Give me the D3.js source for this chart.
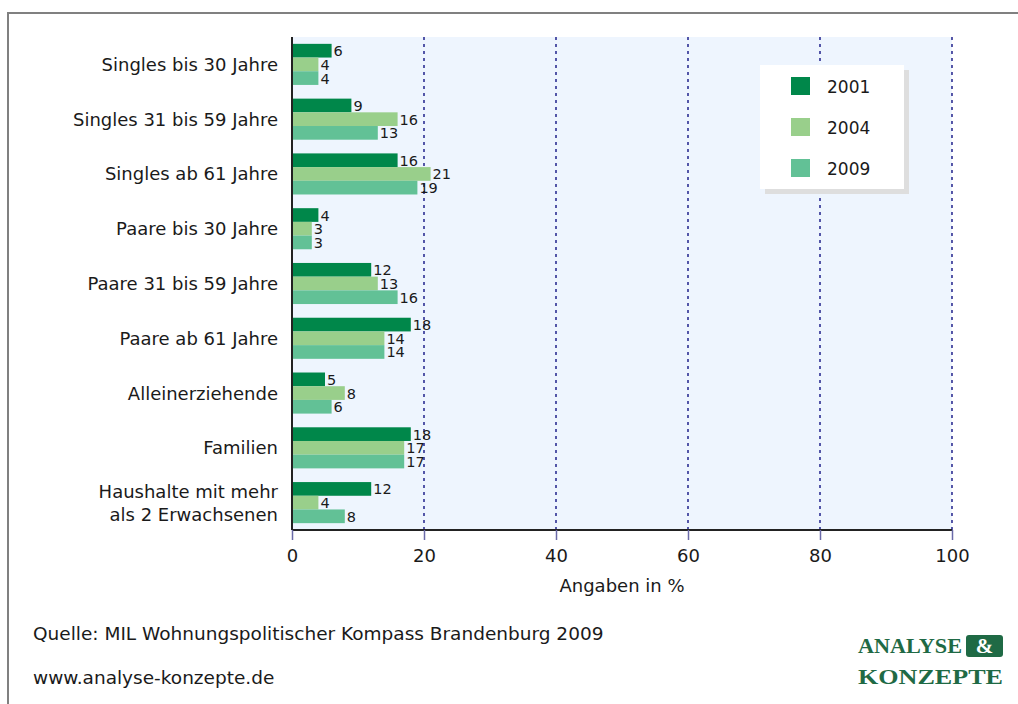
<!DOCTYPE html>
<html>
<head>
<meta charset="utf-8">
<script src="https://cdn.jsdelivr.net/npm/d3@7"></script>
<style>
  body { margin: 0; background: #fff; }
  svg text { font-family: "DejaVu Sans", Verdana, sans-serif; fill: #1a1a1a; }
  svg text.logo { font-family: "Liberation Serif", "DejaVu Serif", serif; font-weight: bold; }
</style>
</head>
<body>
<svg id="chart" width="1018" height="704"></svg>
<script>
// data
const categories = [
  ["Singles bis 30 Jahre"],
  ["Singles 31 bis 59 Jahre"],
  ["Singles ab 61 Jahre"],
  ["Paare bis 30 Jahre"],
  ["Paare 31 bis 59 Jahre"],
  ["Paare ab 61 Jahre"],
  ["Alleinerziehende"],
  ["Familien"],
  ["Haushalte mit mehr", "als 2 Erwachsenen"]
];
const years = ["2001", "2004", "2009"];
const values2001 = [6, 9, 16, 4, 12, 18, 5, 18, 12];
const values2004 = [4, 16, 21, 3, 13, 14, 8, 17, 4];
const values2009 = [4, 13, 19, 3, 16, 14, 6, 17, 8];
const colors = ["#00874a", "#99cf8b", "#62c196"];
const xTicks = [0, 20, 40, 60, 80, 100];

const seriesValues = [values2001, values2004, values2009];

const svg = d3.select("#chart");
const plotLeft = 292, plotRight = 952, plotTop = 37, plotBottom = 530;

// outer frame (top + left edge only visible)
svg.append("line").attr("x1", 7).attr("x2", 1018).attr("y1", 13).attr("y2", 13)
    .attr("stroke", "#808080").attr("stroke-width", 2);
svg.append("line").attr("x1", 8).attr("x2", 8).attr("y1", 12).attr("y2", 704)
    .attr("stroke", "#808080").attr("stroke-width", 2);

const x = d3.scaleLinear().domain([0, 100]).range([plotLeft, plotRight]);
const y = d3.scaleBand().domain(d3.range(categories.length)).range([plotTop, plotBottom])
    .paddingInner(0.25).paddingOuter(0.125);
const ySub = d3.scaleBand().domain(years).range([0, y.bandwidth()]);

// plot background
svg.append("rect").attr("x", plotLeft).attr("y", plotTop)
    .attr("width", plotRight - plotLeft).attr("height", plotBottom - plotTop)
    .attr("fill", "#eef5fe");

// grid lines
svg.append("g").selectAll("line").data(xTicks.slice(1)).join("line")
    .attr("x1", d => x(d)).attr("x2", d => x(d))
    .attr("y1", plotTop).attr("y2", plotBottom)
    .attr("stroke", "#00007a").attr("stroke-width", 1.3)
    .attr("stroke-dasharray", "3,4");

// bars
const groups = svg.append("g").selectAll("g").data(categories).join("g")
    .attr("transform", (d, i) => `translate(0,${y(i)})`);

groups.each(function(cat, i) {
  const g = d3.select(this);
  years.forEach((yr, s) => {
    const v = seriesValues[s][i];
    g.append("rect")
      .attr("x", x(0)).attr("y", ySub(yr))
      .attr("width", x(v) - x(0)).attr("height", ySub.bandwidth())
      .attr("fill", colors[s]);
    g.append("text")
      .attr("x", x(v) + 2).attr("y", ySub(yr) + ySub.bandwidth() / 2 + 5.5)
      .attr("font-size", 14.5)
      .text(v);
  });
  // category label
  const lines = cat;
  const cy = y.bandwidth() / 2;
  const lh = 23;
  const t = g.append("text").attr("text-anchor", "end").attr("font-size", 18);
  lines.forEach((ln, k) => {
    t.append("tspan").attr("x", 278)
      .attr("y", cy + 6.5 + (k - (lines.length - 1) / 2) * lh)
      .text(ln);
  });
});

// axes lines
svg.append("line").attr("x1", plotLeft).attr("x2", plotRight).attr("y1", plotBottom).attr("y2", plotBottom)
    .attr("stroke", "#222").attr("stroke-width", 2);
svg.append("line").attr("x1", plotLeft).attr("x2", plotLeft).attr("y1", plotTop).attr("y2", plotBottom)
    .attr("stroke", "#222").attr("stroke-width", 2);

// x axis ticks
const xAxis = svg.append("g").attr("transform", `translate(0,${plotBottom})`)
    .call(d3.axisBottom(x).tickValues(xTicks).tickSize(10).tickPadding(9).tickFormat(d3.format("d")));
xAxis.select(".domain").remove();
xAxis.selectAll("line").attr("stroke", "#6a6aa8").attr("stroke-width", 1.5);
xAxis.selectAll("text").attr("font-size", 18)
    .attr("font-family", "DejaVu Sans, sans-serif").attr("fill", "#1a1a1a");

svg.append("text").attr("x", (plotLeft + plotRight) / 2).attr("y", 592)
    .attr("text-anchor", "middle").attr("font-size", 18).text("Angaben in %");

// legend
const lg = svg.append("g").attr("transform", "translate(760,65)");
lg.append("rect").attr("x", 5).attr("y", 5).attr("width", 144).attr("height", 124).attr("fill", "#dedede");
lg.append("rect").attr("width", 144).attr("height", 124).attr("fill", "#fff");
years.forEach((yr, s) => {
  lg.append("rect").attr("x", 31).attr("y", 12 + s * 41).attr("width", 19).attr("height", 18)
    .attr("fill", colors[s]);
  lg.append("text").attr("x", 67).attr("y", 28 + s * 41).attr("font-size", 17).text(yr);
});

// footer
svg.append("text").attr("x", 33).attr("y", 640).attr("font-size", 18.5)
    .text("Quelle: MIL Wohnungspolitischer Kompass Brandenburg 2009");
svg.append("text").attr("x", 33).attr("y", 684).attr("font-size", 18.5)
    .text("www.analyse-konzepte.de");

// logo
const logo = svg.append("g");
logo.append("text").attr("class", "logo").attr("x", 858).attr("y", 653).attr("font-size", 22)
    .style("fill", "#1f6a45").attr("textLength", 104).attr("lengthAdjust", "spacingAndGlyphs")
    .text("ANALYSE");
logo.append("rect").attr("x", 966).attr("y", 635).attr("width", 37).attr("height", 22).attr("rx", 3)
    .attr("fill", "#1f6a45");
logo.append("text").attr("class", "logo").attr("x", 984.5).attr("y", 653).attr("font-size", 21)
    .attr("text-anchor", "middle").style("fill", "#fff").text("&");
logo.append("text").attr("class", "logo").attr("x", 858).attr("y", 684).attr("font-size", 22)
    .style("fill", "#1f6a45").attr("textLength", 145).attr("lengthAdjust", "spacingAndGlyphs")
    .text("KONZEPTE");
</script>
</body>
</html>
